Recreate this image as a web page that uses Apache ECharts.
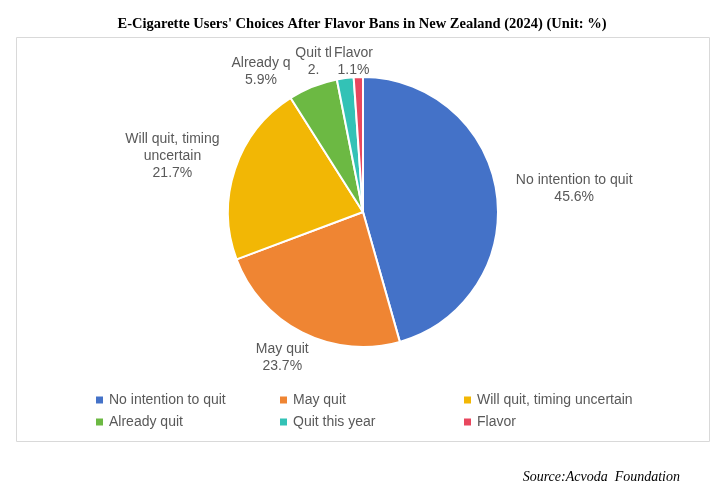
<!DOCTYPE html>
<html>
<head>
<meta charset="utf-8">
<script src="https://cdn.jsdelivr.net/npm/echarts@6/dist/echarts.min.js"></script>
<style>
  html, body { margin: 0; padding: 0; background: #fff; }
  #main { width: 724px; height: 492px; }
</style>
</head>
<body>
<div id="main"></div>
<script>
// data
const categories = ["No intention to quit", "May quit", "Will quit, timing uncertain", "Already quit", "Quit this year", "Flavor"];
const shares = [45.6, 23.7, 21.7, 5.9, 2.0, 1.1];
// slice label names as they appear (wrapped / clipped like the original)
const labelNames = ["No intention to quit", "May quit", "Will quit, timing\nuncertain", "Already q", "Quit tl", "Flavor"];
// how many characters of the value text stay visible (clipped in the original)
const valueClip = [null, null, null, null, 2, null];

const colors = ["#4472C8", "#EF8533", "#F2B705", "#6CB943", "#33C2B6", "#E8475E"];

const pieCenter = [363, 212];
const pieRadius = 135;
// small nudges so labels sit where the original placed them
const labelShift = [[10, 5], [-4, -6], [-5, 6], [-39, 17], [-28, 10], [-4, 10]];

function plotPie(el) {
  try {
    const chart = echarts.getInstanceByDom(el) || echarts.init(el, null, { renderer: "canvas" });

    const total = shares.reduce((a, b) => a + b, 0);
    const midAngles = [];
    let acc = 0;
    shares.forEach((v) => {
      midAngles.push(((acc + v / 2) / total) * Math.PI * 2);
      acc += v;
    });

    const legendText = { color: "#595959", fontSize: 14, lineHeight: 14, fontFamily: "Liberation Sans, Arial, sans-serif" };
    const legendBase = {
      orient: "vertical",
      top: 388,
      padding: 5,
      icon: "rect",
      itemWidth: 9,
      itemHeight: 9,
      itemGap: 8,
      textStyle: legendText,
      selectedMode: false,
    };

    const option = {
      color: colors,
      animation: false,
      title: {
        text: "E-Cigarette Users' Choices After Flavor Bans in New Zealand (2024) (Unit: %)",
        left: "center",
        top: 12,
        textStyle: {
          fontFamily: "Liberation Serif, Times New Roman, serif",
          fontWeight: "bold",
          fontSize: 14.5,
          color: "#000",
        },
      },
      legend: [
        Object.assign({}, legendBase, { left: 89, data: [categories[0], categories[3]] }),
        Object.assign({}, legendBase, { left: 273, data: [categories[1], categories[4]] }),
        Object.assign({}, legendBase, { left: 457, data: [categories[2], categories[5]] }),
      ],
      graphic: [
        {
          type: "rect",
          shape: { x: 16.5, y: 37.5, width: 693, height: 404 },
          style: { fill: "none", stroke: "#d9d9d9", lineWidth: 1 },
          silent: true,
        },
        {
          type: "text",
          right: 44,
          top: 470,
          style: {
            text: "Source:Acvoda  Foundation",
            fontFamily: "Liberation Serif, Times New Roman, serif",
            fontStyle: "italic",
            fontSize: 14,
            fill: "#000",
          },
        },
      ],
      series: [
        {
          name: "Choices",
          type: "pie",
          center: pieCenter,
          radius: pieRadius,
          startAngle: 90,
          clockwise: true,
          itemStyle: { borderColor: "#fff", borderWidth: 2 },
          label: {
            show: true,
            position: "outside",
            color: "#595959",
            fontSize: 14,
            lineHeight: 17,
            fontFamily: "Liberation Sans, Arial, sans-serif",
            formatter: (p) => {
              let val = p.value.toFixed(1) + "%";
              if (valueClip[p.dataIndex]) val = val.slice(0, valueClip[p.dataIndex]);
              return labelNames[p.dataIndex] + "\n" + val;
            },
          },
          labelLine: { show: false },
          labelLayout: (params) => {
            const i = params.dataIndex;
            const a = midAngles[i];
            const dx = Math.sin(a);
            const dy = -Math.cos(a);
            const w = params.labelRect.width;
            const h = params.labelRect.height;
            const half = (w / 2) * Math.abs(dx) + (h / 2) * Math.abs(dy);
            const d = pieRadius + 8 + half;
            return {
              x: pieCenter[0] + dx * d + labelShift[i][0],
              y: pieCenter[1] + dy * d + labelShift[i][1],
              align: "center",
              verticalAlign: "middle",
            };
          },
          data: categories.map((name, i) => ({ name: name, value: shares[i] })),
        },
      ],
    };

    chart.setOption(option, true);
  } catch (error) {
    console.error("Error in plotPie:", error);
  }
}

plotPie(document.getElementById("main"));
</script>
</body>
</html>
